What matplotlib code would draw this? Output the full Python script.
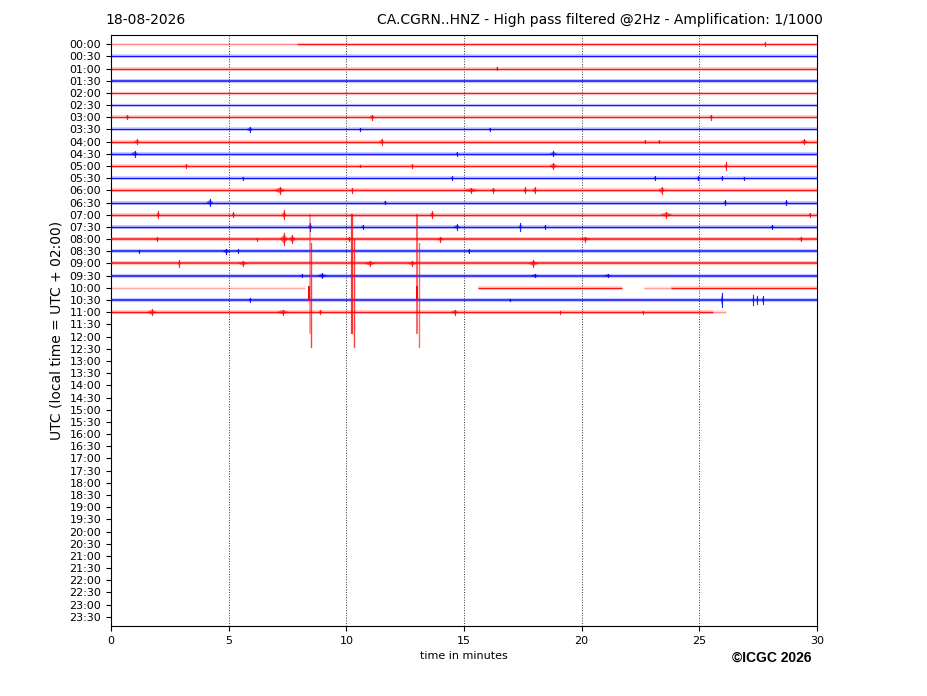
import matplotlib
matplotlib.use("Agg")
import matplotlib.pyplot as plt
import numpy as np

# ---- labels ----
row_labels = [f"{h:02d}:{m:02d}" for h in range(24) for m in (0, 30)]
date_text = "18-08-2026"
title_text = "CA.CGRN..HNZ - High pass filtered @2Hz - Amplification: 1/1000"
xlabel_text = "time in minutes"
ylabel_text = "UTC (local time = UTC + 02:00)"
credit_text = "\u00a9ICGC 2026"
x_ticks = [0, 5, 10, 15, 20, 25, 30]

# ---- trace segments: row, start minute, end minute, alpha ----
seg_row   = [0, 0] + list(range(1, 20)) + [20, 20, 20, 20, 21, 22, 22]
seg_start = [0.0, 7.9] + [0.0] * 19 + [0.0, 15.6, 22.65, 23.8, 0.0, 0.0, 25.6]
seg_end   = [7.9, 30.0] + [30.0] * 19 + [8.25, 21.7, 23.8, 30.0, 30.0, 25.6, 26.14]
seg_alpha = [0.45, 1.0] + [1.0] * 19 + [0.3, 1.0, 0.35, 1.0, 1.0, 1.0, 0.4]

# ---- noise thickness per row (line width in points) ----
row_noise = [1.6, 1.8, 1.8, 2.2, 1.6, 1.6, 1.8, 1.8, 2.0, 2.0, 1.8, 1.8,
             2.0, 2.0, 2.0, 2.0, 2.2, 2.2, 2.2, 2.2, 1.8, 2.2, 2.0]

# ---- events: row, minute, half amplitude (rows), duration (minutes) ----
ev_row = [0, 2,
          6, 6, 6,
          7, 7, 7,
          8, 8, 8, 8, 8,
          9, 9, 9,
          10, 10, 10, 10, 10,
          11, 11, 11, 11, 11, 11,
          12, 12, 12, 12, 12, 12, 12,
          13, 13, 13, 13,
          14, 14, 14, 14, 14, 14,
          15, 15, 15, 15, 15, 15,
          16, 16, 16, 16, 16, 16, 16, 16,
          17, 17, 17, 17,
          18, 18, 18, 18, 18,
          19, 19, 19, 19,
          21, 21, 21, 21, 21, 21,
          22, 22, 22, 22, 22, 22]
ev_min = [27.8, 16.4,
          0.7, 11.1, 25.5,
          5.9, 10.6, 16.1,
          1.1, 11.5, 22.7, 23.3, 29.45,
          1.0, 14.7, 18.8,
          3.2, 10.6, 12.8, 18.8, 26.14,
          5.6, 14.5, 23.1, 24.95, 25.95, 26.9,
          7.18, 10.25, 15.3, 16.25, 17.6, 18.0, 23.4,
          4.2, 11.65, 26.1, 28.7,
          2.0, 5.2, 7.35, 13.65, 23.6, 29.7,
          8.46, 10.7, 14.7, 17.4, 18.45, 28.1,
          1.95, 6.2, 7.35, 7.7, 10.1, 14.0, 20.15, 29.3,
          1.2, 4.9, 5.4, 15.2,
          2.9, 5.6, 11.0, 12.8, 17.95,
          8.1, 8.97, 18.0, 21.1,
          5.9, 16.95, 25.95, 27.3, 27.45, 27.7,
          1.73, 7.3, 8.9, 14.6, 19.1, 22.6]
ev_amp = [0.14, 0.12,
          0.18, 0.22, 0.2,
          0.22, 0.15, 0.15,
          0.18, 0.25, 0.15, 0.12, 0.2,
          0.25, 0.14, 0.2,
          0.15, 0.12, 0.15, 0.28, 0.3,
          0.12, 0.15, 0.14, 0.14, 0.14, 0.12,
          0.3, 0.2, 0.22, 0.2, 0.25, 0.25, 0.3,
          0.28, 0.15, 0.2, 0.18,
          0.28, 0.2, 0.35, 0.3, 0.25, 0.15,
          0.3, 0.15, 0.22, 0.3, 0.14, 0.15,
          0.15, 0.12, 0.5, 0.35, 0.15, 0.2, 0.2, 0.18,
          0.12, 0.22, 0.18, 0.15,
          0.25, 0.22, 0.22, 0.2, 0.28,
          0.12, 0.22, 0.15, 0.15,
          0.15, 0.12, 0.55, 0.4, 0.3, 0.3,
          0.25, 0.22, 0.15, 0.2, 0.12, 0.12]
ev_dur = [0.1, 0.1,
          0.2, 0.3, 0.2,
          0.3, 0.15, 0.15,
          0.25, 0.2, 0.1, 0.1, 0.3,
          0.3, 0.1, 0.35,
          0.15, 0.1, 0.15, 0.35, 0.15,
          0.1, 0.15, 0.1, 0.1, 0.1, 0.1,
          0.5, 0.1, 0.7, 0.25, 0.2, 0.2, 0.3,
          0.3, 0.15, 0.15, 0.15,
          0.15, 0.15, 0.2, 0.2, 0.5, 0.15,
          0.2, 0.15, 0.3, 0.15, 0.12, 0.2,
          0.15, 0.1, 0.35, 0.3, 0.15, 0.3, 0.5, 0.2,
          0.1, 0.35, 0.1, 0.1,
          0.15, 0.4, 0.5, 0.4, 0.45,
          0.2, 0.45, 0.4, 0.4,
          0.12, 0.1, 0.08, 0.08, 0.06, 0.08,
          0.45, 0.6, 0.2, 0.4, 0.1, 0.1]

# ---- large glitches: minute, top row, bottom row, alpha, width ----
spk_min   = [8.44, 8.51, 8.42, 10.25, 10.33, 13.02, 13.09, 13.0]
spk_top   = [14.0, 16.3, 19.9, 14.0, 16.0, 14.0, 16.3, 19.9]
spk_bot   = [23.7, 24.85, 21.0, 23.7, 24.85, 23.7, 24.85, 20.9]
spk_alpha = [0.45, 0.75, 1.0, 0.8, 0.75, 0.7, 0.6, 1.0]
spk_lw    = [1.2, 1.0, 1.4, 1.6, 1.0, 1.2, 1.0, 1.4]

W, H, DPI = 927, 696, 100
fig = plt.figure(figsize=(W / DPI, H / DPI), dpi=DPI)
ax = fig.add_axes([111 / W, 1 - 626 / H, (817 - 111) / W, (626 - 35) / H])

def row_color(r):
    return "#ff0000" if r % 2 == 0 else "#0000ff"

# baseline traces
for r, s, e, a in zip(seg_row, seg_start, seg_end, seg_alpha):
    c = row_color(r)
    ax.plot([s, e], [r, r], color=c, lw=row_noise[r] + 0.8, alpha=0.22 * a,
            solid_capstyle="butt", zorder=2)
    ax.plot([s, e], [r, r], color=c, lw=row_noise[r] * 0.5, alpha=0.9 * a,
            solid_capstyle="butt", zorder=3)

# events
for r, m, a, d in zip(ev_row, ev_min, ev_amp, ev_dur):
    c = row_color(r)
    ax.fill([m - d / 2, m, m + d / 2, m], [r, r - a * 0.8, r, r + a * 0.8],
            color=c, alpha=0.55, lw=0, zorder=4)
    ax.plot([m, m], [r - a, r + a], color=c, lw=0.8, alpha=0.85, zorder=4)

# glitches
for m, t, b, a, lw in zip(spk_min, spk_top, spk_bot, spk_alpha, spk_lw):
    ax.plot([m, m], [t, b], color="#ff0000", alpha=a, lw=lw, zorder=5)

ax.set_xlim(0, 30)
ax.set_ylim(47.75, -0.75)
ax.set_xticks(x_ticks)
ax.set_xticklabels([str(v) for v in x_ticks], fontsize=8)
ax.set_yticks(range(len(row_labels)))
ax.set_yticklabels(row_labels, fontsize=8)
ax.tick_params(axis="both", direction="out", length=3.5, width=0.8)
ax.grid(axis="x", linestyle=":", color="black", lw=0.7, alpha=0.8)
ax.set_axisbelow(True)
ax.set_xlabel(xlabel_text, fontsize=8)
ax.set_ylabel(ylabel_text, fontsize=10)

fig.text(105 / W, 1 - 20 / H, date_text, fontsize=10, ha="left", va="center")
fig.text(823 / W, 1 - 20 / H, title_text, fontsize=10, ha="right", va="center")
fig.text(811 / W, 1 - 658 / H, credit_text, fontsize=10, fontweight="bold",
         family="Liberation Sans", ha="right", va="center")

fig.savefig("out.png", dpi=DPI)
